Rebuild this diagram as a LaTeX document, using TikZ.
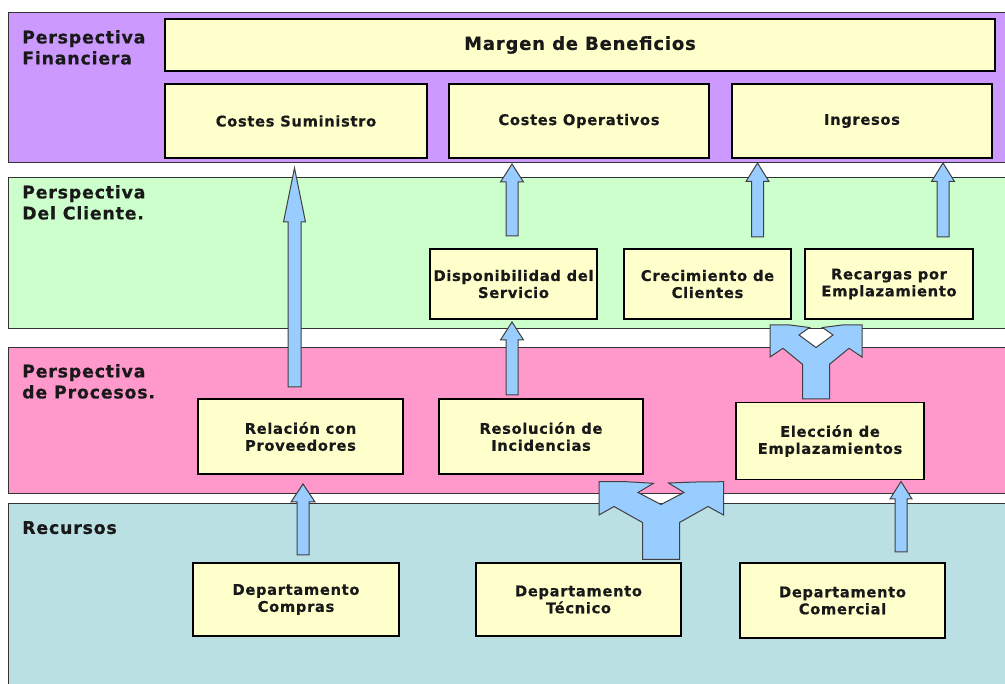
\documentclass[tikz,border=0pt]{standalone}
\usepackage{fontspec}
\setmainfont{DejaVu Sans}[LetterSpace=4.5, BoldFeatures={FakeBold=0.5}]
\definecolor{finband}{HTML}{CC99FF}
\definecolor{cliband}{HTML}{CCFFCC}
\definecolor{proband}{HTML}{FF99CC}
\definecolor{resband}{HTML}{BAE0E3}
\definecolor{boxyellow}{HTML}{FFFFCC}
\definecolor{arrowblue}{HTML}{99CCFF}
% vertical block arrow: centre x, tip y, head base y, bottom y, head half width, shaft half width
\newcommand\blockup[6]{%
  \draw[blk] (#1,#2) -- ({#1+#5},#3) -- ({#1+#6},#3) -- ({#1+#6},#4)
    -- ({#1-#6},#4) -- ({#1-#6},#3) -- ({#1-#5},#3) -- cycle;}
\begin{document}
\begin{tikzpicture}[x=1pt,y=-1pt,
  band/.style={draw=black!80, line width=0.9pt},
  bandlabel/.style={anchor=north west, inner sep=0pt, align=left, text=black!90,
    font=\fontsize{17.4}{21}\selectfont\bfseries},
  box/.style={draw=black, line width=1.8pt, fill=boxyellow, inner sep=0pt,
    align=center, text=black!90, font=\fontsize{14.7}{17}\selectfont\bfseries},
  blk/.style={draw=black!75, line width=1pt, fill=arrowblue, line join=miter}]
\useasboundingbox (0,0) rectangle (1005,684);
\clip (0,0) rectangle (1005,684);
\fill[white] (0,0) rectangle (1005,684);

% perspective bands
\draw[band, fill=finband] (8,12) rectangle (1015,162);
\draw[band, fill=cliband] (8,177) rectangle (1015,328);
\draw[band, fill=proband] (8,347) rectangle (1015,493);
\draw[band, fill=resband] (8,503) rectangle (1015,695);

\node[bandlabel] (lfin) at (22,30) {Perspectiva\\Financiera};
\node[bandlabel] (lcli) at (22,185) {Perspectiva\\Del Cliente.};
\node[bandlabel] (lpro) at (22,364) {Perspectiva\\de Procesos.};
\node[bandlabel] (lres) at (22,521) {Recursos};

% financial perspective
\node[box, minimum width=830pt, minimum height=52pt, font=\fontsize{18}{20}\selectfont\bfseries]
  (mb) at (580,45) {Margen de Beneficios};
\node[box, minimum width=262pt, minimum height=74pt] (cs) at (296,121) {Costes Suministro};
\node[box, minimum width=260pt, minimum height=74pt] (co) at (579,121) {Costes Operativos};
\node[box, minimum width=260pt, minimum height=74pt] (ing) at (862,121) {Ingresos};

% customer perspective
\node[box, minimum width=167pt, minimum height=70pt] (dis) at (513.5,284) {Disponibilidad del\\Servicio};
\node[box, minimum width=167pt, minimum height=70pt] (cre) at (707.5,284) {Crecimiento de\\Clientes};
\node[box, minimum width=168pt, minimum height=70pt] (rec) at (889,284) {Recargas por\\Emplazamiento};

% process perspective
\node[box, minimum width=205pt, minimum height=75pt] (rel) at (300.5,436.5) {Relación con\\Proveedores};
\node[box, minimum width=204pt, minimum height=75pt] (res) at (541,436.5) {Resolución de\\Incidencias};
\node[box, minimum width=188pt, minimum height=77pt] (ele) at (830,441) {Elección de\\Emplazamientos};

% resources
\node[box, minimum width=206pt, minimum height=73pt] (dcp) at (296,599.5) {Departamento\\Compras};
\node[box, minimum width=205pt, minimum height=73pt] (dtc) at (578.5,599.5) {Departamento\\Técnico};
\node[box, minimum width=205pt, minimum height=75pt] (dcm) at (842.5,600.5) {Departamento\\Comercial};

% single block arrows
\blockup{294.5}{168}{222}{387}{11}{6.5}
\blockup{512}{164}{182}{236}{11.5}{6}
\blockup{757.5}{163}{181.5}{237}{11.5}{6}
\blockup{943}{163}{181.5}{237}{11.5}{6}
\blockup{512}{322}{340}{395}{11.5}{6}
\blockup{303}{484}{502}{555}{12}{6}
\blockup{901}{481.5}{499}{552}{11}{6}

% split arrow from the technical department
\draw[blk] (599,481.7) -- (626,481.7) -- (653.5,483.3) -- (638,492.5) -- (661,504.5)
  -- (684,492.5) -- (668.5,483) -- (696,482) -- (723.5,481.7) -- (723.5,515)
  -- (708,506.5) -- (679.5,522.5) -- (679.5,559.5) -- (642.5,559.5) -- (642.5,522.5)
  -- (614,506.5) -- (599,515) -- cycle;

% split arrow from site selection
\draw[blk] (770,325) -- (790,325) -- (809.5,327.5) -- (799,335) -- (816,347.5)
  -- (833,335) -- (822.5,327.5) -- (842,325) -- (862,325) -- (862,357)
  -- (849,348.3) -- (829.5,364.3) -- (829.5,399) -- (802.5,399) -- (802.5,364.3)
  -- (783,348.3) -- (770,357) -- cycle;
\end{tikzpicture}
\end{document}
